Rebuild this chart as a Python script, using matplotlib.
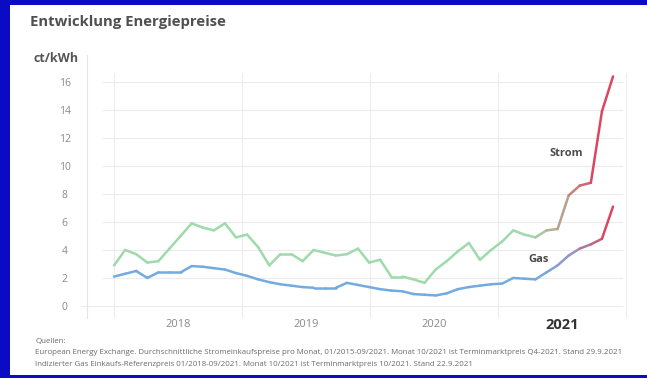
import matplotlib
matplotlib.use("Agg")
import matplotlib.pyplot as plt
import numpy as np
from matplotlib.collections import LineCollection
from matplotlib.colors import to_rgb
from matplotlib.patches import Rectangle

# monthly values, 01/2018 - 10/2021 (ct/kWh)
strom = [2.9, 4.0, 3.7, 3.1, 3.2, 4.1, 5.0, 5.9, 5.6, 5.4,
         5.9, 4.9, 5.1, 4.2, 2.9, 3.7, 3.7, 3.2, 4.0, 3.8,
         3.6, 3.7, 4.1, 3.1, 3.3, 2.1, 2.1, 1.9, 1.65, 2.6,
         3.2, 3.9, 4.5, 3.3, 4.0, 4.6, 5.4, 5.1, 4.9, 5.4,
         5.5, 7.9, 8.6, 8.8, 13.9, 16.4]
gas = [2.1, 2.3, 2.5, 2.0, 2.4, 2.4, 2.4, 2.85, 2.8, 2.7,
       2.6, 2.35, 2.15, 1.9, 1.7, 1.55, 1.45, 1.35, 1.3, 1.3,
       1.3, 1.65, 1.5, 1.35, 1.2, 1.1, 1.05, 0.85, 0.8, 0.75,
       0.9, 1.2, 1.35, 1.45, 1.55, 1.6, 2.0, 1.95, 1.9, 2.4,
       2.9, 3.6, 4.1, 4.4, 4.8, 7.1]
year_labels = ["2018", "2019", "2020", "2021"]
y_ticks = [0, 2, 4, 6, 8, 10, 12, 14, 16]

FONT = "Open Sans"
BLUE_BG = "#0b0bc4"
RED = "#d9485f"


def gradient_colors(n, stops, start, end):
    """One colour per segment, fading through the stops between start and end index."""
    stops = [np.array(to_rgb(c)) for c in stops]
    cols = []
    for i in range(n - 1):
        t = np.clip((i - start) / (end - start), 0, 1) * (len(stops) - 1)
        k = min(int(t), len(stops) - 2)
        f = t - k
        cols.append(stops[k] * (1 - f) + stops[k + 1] * f)
    return cols


def add_line(ax, values, colors):
    x = np.arange(len(values))
    pts = np.column_stack([x, values]).reshape(-1, 1, 2)
    segs = np.concatenate([pts[:-1], pts[1:]], axis=1)
    lc = LineCollection(segs, colors=colors, linewidths=1.8, capstyle="round",
                        joinstyle="round", zorder=3)
    ax.add_collection(lc)


fig = plt.figure(figsize=(6.47, 3.78), dpi=100)
fig.patch.set_facecolor(BLUE_BG)
fig.patches.append(Rectangle((10 / 647, 3 / 378), 1, 370 / 378, transform=fig.transFigure,
                             facecolor="white", edgecolor="none", zorder=-10))

ax = fig.add_axes([87 / 647, 60 / 378, 543 / 647, 263 / 378])
ax.set_facecolor("none")
ax.set_xlim(-2.44, 46.53)
ax.set_ylim(-0.86, 17.93)

# grid
year_w = 11.55
for k in range(len(year_labels) + 1):
    ax.axvline(k * year_w, ymin=0, ymax=0.93, color="#ececec", lw=0.8, zorder=1)
for v in y_ticks:
    ax.plot([-3.0 if v == 0 else -1.0, 45.8], [v, v], color="#ececec", lw=0.8, zorder=1,
            clip_on=False)

for s in ["top", "right", "bottom"]:
    ax.spines[s].set_visible(False)
ax.spines["left"].set_color("#e6e6e6")
ax.spines["left"].set_linewidth(0.8)
ax.set_xticks([])
ax.set_yticks(y_ticks)
ax.set_yticklabels([str(v) for v in y_ticks], fontsize=7.5, color="#8a8a8a",
                   fontfamily=FONT, ha="center")
ax.tick_params(axis="y", length=0, pad=16)

add_line(ax, strom, gradient_colors(len(strom), ["#9edaab", "#b7a08c", RED], 37, 43))
add_line(ax, gas, gradient_colors(len(gas), ["#74abdf", "#9c90c2", RED], 38, 44))

# year labels below the axis
for k, lab in enumerate(year_labels):
    last = k == len(year_labels) - 1
    ax.text((k + 0.5) * year_w, -1.35, lab, ha="center", va="center",
            fontsize=10.5 if last else 8, fontweight="bold" if last else "normal",
            color="#333333" if last else "#8a8a8a", fontfamily=FONT, clip_on=False)

ax.text(40.8, 10.9, "Strom", ha="center", va="center", fontsize=8, fontweight="bold",
        color="#4a4a4a", fontfamily=FONT)
ax.text(38.3, 3.35, "Gas", ha="center", va="center", fontsize=8, fontweight="bold",
        color="#4a4a4a", fontfamily=FONT)

fig.text(30 / 647, 1 - 22 / 378, "Entwicklung Energiepreise", ha="left", va="center",
         fontsize=10.7, fontweight="bold", color="#505050", fontfamily=FONT)
fig.text(33 / 647, 1 - 58 / 378, "ct/kWh", ha="left", va="center",
         fontsize=9, fontweight="bold", color="#555555", fontfamily=FONT)

src = [
    "Quellen:",
    "European Energy Exchange. Durchschnittliche Stromeinkaufspreise pro Monat, 01/2015-09/2021. "
    "Monat 10/2021 ist Terminmarktpreis Q4-2021. Stand 29.9.2021",
    "Indizierter Gas Einkaufs-Referenzpreis 01/2018-09/2021. Monat 10/2021 ist "
    "Terminmarktpreis 10/2021. Stand 22.9.2021",
]
for i, line in enumerate(src):
    fig.text(35 / 647, 1 - (341 + i * 11.5) / 378, line, ha="left", va="center",
             fontsize=5.7, color="#6a6a6a", fontfamily=FONT)

fig.savefig("out.png", dpi=100, facecolor=fig.get_facecolor())
